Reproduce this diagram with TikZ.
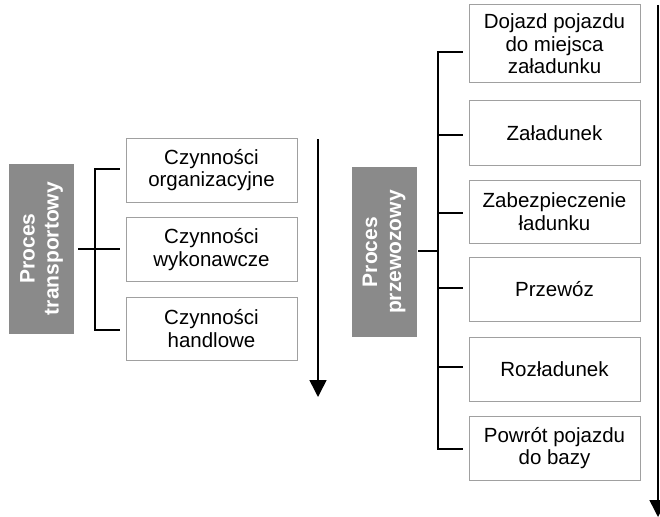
\documentclass[tikz,border=0pt]{standalone}
\usepackage{fontspec}
\setmainfont{Liberation Sans}
\usetikzlibrary{arrows.meta,calc}
\definecolor{boxgray}{HTML}{A0A0A0}
\definecolor{procgray}{HTML}{8A8A8A}
\begin{document}
\begin{tikzpicture}[x=1pt,y=-1pt,
  actbox/.style={draw=boxgray,line width=1pt,fill=white,minimum width=171pt,minimum height=64pt,
    inner sep=0pt,align=center,font=\fontsize{20.5}{22.5}\selectfont},
  procbox/.style={fill=procgray,text=white,minimum width=170pt,minimum height=65pt,inner sep=0pt,
    align=center,rotate=90,font=\bfseries\fontsize{21}{24}\selectfont},
  link/.style={line width=1.3pt,black},
  timearrow/.style={line width=1.5pt,-{Triangle[width=17pt,length=17pt]}}]
\useasboundingbox (0,0) rectangle (660,516);
\clip (0,0) rectangle (660,516);
% left part
\node[procbox] (pt) at (41.5,248.5) {Proces\\transportowy};
\node[actbox] (l1) at (211.5,170) {Czynności\\organizacyjne};
\node[actbox] (l2) at (211.5,249.5) {Czynności\\wykonawcze};
\node[actbox,minimum height=63pt] (l3) at (211.5,328.5) {Czynności\\handlowe};
\coordinate (lbar) at (95,249);
\coordinate (lstart) at (78,249);
\draw[link] ($(l1.west)+(-6,-1)$) -- (lbar |- {$(l1.west)+(0,-1)$}) -- (lbar |- {$(l3.west)+(0,1.5)$}) -- ($(l3.west)+(-6,1.5)$);
\draw[link] (lstart) -- (lstart -| {$(l2.west)+(-6,0)$});
\coordinate (la1) at (318,139);
\coordinate (la2) at (318,397);
\draw[timearrow] (la1) -- (la2);
% right part
\node[procbox] (pp) at (384,252) {Proces\\przewozowy};
\node[actbox,minimum height=78pt] (r1) at (554.5,44) {Dojazd pojazdu\\do miejsca\\załadunku};
\node[actbox] (r2) at (554.5,133) {Załadunek};
\node[actbox,minimum height=63pt] (r3) at (554.5,211.5) {Zabezpieczenie\\ładunku};
\node[actbox] (r4) at (554.5,289) {Przewóz};
\node[actbox] (r5) at (554.5,369) {Rozładunek};
\node[actbox] (r6) at (554.5,448) {Powrót pojazdu\\do bazy};
\coordinate (rbar) at (438,251);
\coordinate (rstart) at (418,251);
\draw[link] ($(r1.west)+(-6,8)$) -- (rbar |- {$(r1.west)+(0,8)$}) -- (rbar |- {$(r6.west)+(0,1)$}) -- ($(r6.west)+(-6,1)$);
\foreach \n/\d in {r2/2,r3/1.5,r4/-1,r5/-2}{
  \draw[link] (rbar |- {$(\n.west)+(0,\d)$}) -- ($(\n.west)+(-6,\d)$);
}
\draw[link] (rstart) -- (rbar);
\coordinate (ra1) at (658,5);
\coordinate (ra2) at (658,517);
\draw[timearrow] (ra1) -- (ra2);
\end{tikzpicture}
\end{document}
